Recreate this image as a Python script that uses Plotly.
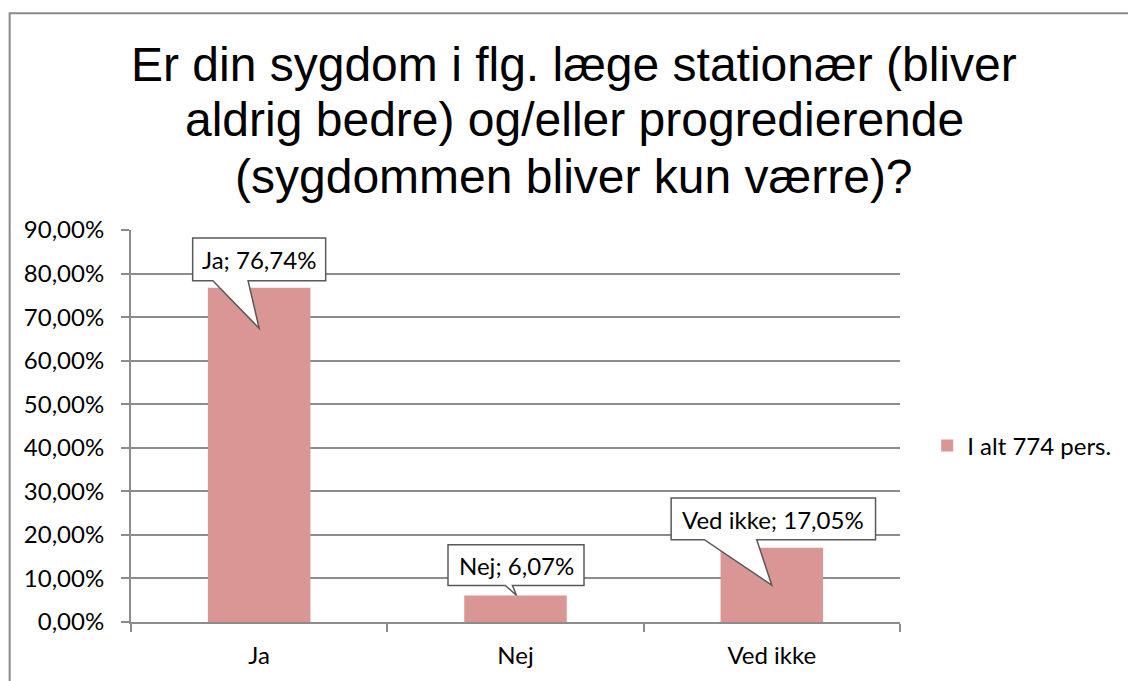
import plotly.graph_objects as go

categories = ["Ja", "Nej", "Ved ikke"]
values = [76.74, 6.07, 17.05]
series_name = "I alt 774 pers."
y_ticks = [0, 10, 20, 30, 40, 50, 60, 70, 80, 90]
y_tick_labels = [f"{t:.2f}%".replace(".", ",") for t in y_ticks]
title_lines = [
    "Er din sygdom i flg. læge stationær (bliver",
    "aldrig bedre) og/eller progredierende",
    "(sygdommen bliver kun værre)?",
]

BAR = "#D99694"
GRID = "#8C8C8C"
BORDER = "#595959"
FONT = "Lato"
FS = 24

# page-space -> figure-space calibration (style only)
SX, SY, OY = 0.993, 0.986, 2.4


def fx(x):
    return x / SX


def fy(y):
    return (y - OY) / SY


# callout geometry in pixels relative to bar top (style only)
callouts = [
    dict(box=(-66, 66, 7, 49), tail=(-46, -11, 0, -40), ty=28),
    dict(box=(-67, 68, 10, 50), tail=(-10, -3, 1, 0), ty=30),
    dict(box=(-100, 103, 8, 49), tail=(-67, -15, 0, -37), ty=28),
]

W, H = 1128, 681
L = round(fx(130))
R = W - round(fx(904))
T = round(fy(229))
B = H - round(fy(625))
PW, PH = W - L - R, H - T - B


def px(x):
    return (fx(x) - L) / PW


def py(y):
    return (H - B - fy(y)) / PH


fig = go.Figure()
fig.add_trace(go.Bar(
    x=categories, y=values, name=series_name,
    marker=dict(color=BAR, line=dict(width=0)),
    width=0.4, showlegend=True,
))

shapes = []
annotations = []
for i, (c, v, g) in enumerate(zip(categories, values, callouts)):
    x0, x1, yb, yt = [a / SX for a in g["box"][:2]] + [a / SY for a in g["box"][2:]]
    tl, tr, tx = [a / SX for a in g["tail"][:3]]
    tyy = g["tail"][3] / SY
    path = (f"M{x0:.1f},{yb:.1f} L{tl:.1f},{yb:.1f} L{tx:.1f},{tyy:.1f} "
            f"L{tr:.1f},{yb:.1f} L{x1:.1f},{yb:.1f} L{x1:.1f},{yt:.1f} "
            f"L{x0:.1f},{yt:.1f} Z")
    shapes.append(dict(
        type="path", xref="x", yref="y", xsizemode="pixel", ysizemode="pixel",
        xanchor=i, yanchor=v, path=path, fillcolor="white",
        line=dict(color=BORDER, width=1.5), layer="above",
    ))
    label = f"{c}; {v:.2f}%".replace(".", ",")
    annotations.append(dict(
        x=i, y=v, xref="x", yref="y", text=label, showarrow=False,
        yshift=g["ty"] / SY, xshift=(x0 + x1) / 2,
        font=dict(family=FONT, size=FS, color="black"),
    ))

# title lines
for line, ty in zip(title_lines, [62, 118, 175]):
    annotations.append(dict(
        x=px(576), y=py(ty), xref="paper", yref="paper", text=line,
        showarrow=False, xanchor="center", yanchor="middle",
        font=dict(family="Liberation Sans, Arial", size=48, color="black"),
    ))

# outer chart border
shapes.append(dict(
    type="rect", xref="paper", yref="paper",
    x0=px(8), x1=px(W + 50),
    y0=py(H + 50), y1=py(10.5),
    line=dict(color="#8A8A8A", width=2), fillcolor="rgba(0,0,0,0)", layer="below",
))

fig.update_layout(
    width=W, height=H,
    margin=dict(l=L, r=R, t=T, b=B),
    paper_bgcolor="white", plot_bgcolor="white",
    shapes=shapes,
    annotations=annotations,
    showlegend=True,
    legend=dict(
        x=px(931), xanchor="left",
        y=py(447), yanchor="middle",
        font=dict(family=FONT, size=FS, color="black"),
        bgcolor="rgba(0,0,0,0)",
    ),
    font=dict(family=FONT, size=FS, color="black"),
)

fig.update_xaxes(
    type="category", range=[-0.5, 2.5],
    showline=True, linecolor=GRID, linewidth=2,
    ticks="outside", tickson="boundaries", ticklen=8, tickwidth=2, tickcolor=GRID,
    showgrid=False, ticklabelstandoff=11,
    tickfont=dict(family=FONT, size=FS, color="black"),
)
fig.update_yaxes(
    range=[0, 90], tickvals=y_ticks, ticktext=y_tick_labels,
    showline=True, linecolor=GRID, linewidth=2,
    ticks="outside", ticklen=8, tickwidth=2, tickcolor=GRID,
    showgrid=True, gridcolor=GRID, gridwidth=1.5, zeroline=False,
    ticklabelstandoff=12,
    tickfont=dict(family=FONT, size=FS, color="black"),
)

fig.write_html(
    "out.html",
    config={"displayModeBar": False},
    post_script="document.body.style.margin='0';document.body.style.overflow='hidden';",
)
